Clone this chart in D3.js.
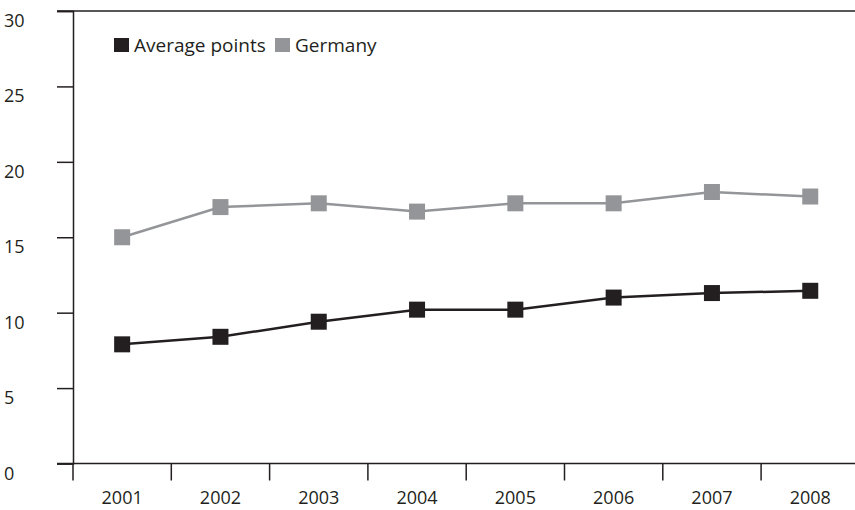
<!DOCTYPE html>
<html>
<head>
<meta charset="utf-8">
<script src="https://cdn.jsdelivr.net/npm/d3@7"></script>
<style>
  body { margin: 0; background: #fff; }
  text { font-family: "Open Sans", Lato, sans-serif; fill: #231f20; }
</style>
</head>
<body>
<script>
// chart data
var years = ["2001", "2002", "2003", "2004", "2005", "2006", "2007", "2008"];
var averagePoints = [7.9, 8.4, 9.4, 10.2, 10.2, 11.0, 11.3, 11.45];
var germany = [15.0, 17.0, 17.25, 16.7, 17.25, 17.25, 18.0, 17.7];
var yTicks = [0, 5, 10, 15, 20, 25, 30];
var seriesNames = ["Average points", "Germany"];
var seriesColors = ["#231f20", "#939598"];

drawChart();

function drawChart(){

    var width = 855,
        height = 510;

    var svg = d3.select("body")
        .append("svg")
        .attr("width", width)
        .attr("height", height);

    //scales
    var x = d3.scaleBand()
        .domain(years)
        .range([73, 73 + 8 * 98.3]);

    var y = d3.scaleLinear()
        .domain([0, 30])
        .range([463.5, 11]);

    //top border line
    svg.append("line")
        .attr("x1", 57).attr("x2", width)
        .attr("y1", y(30)).attr("y2", y(30))
        .attr("stroke", "#231f20").attr("stroke-width", 1.5);

    //y axis
    var yAxis = svg.append("g")
        .attr("transform", "translate(73,0)")
        .call(d3.axisLeft(y).tickValues(yTicks).tickSize(16).tickFormat(""));
    yAxis.select(".domain").attr("stroke", "#231f20").attr("stroke-width", 1.5);
    yAxis.selectAll(".tick line").attr("stroke", "#231f20").attr("stroke-width", 1.5);

    //y labels sit a little below their ticks
    svg.selectAll(".ylabel")
        .data(yTicks)
        .enter()
        .append("text")
        .attr("class", "ylabel")
        .attr("x", 4)
        .attr("y", function(d){ return y(d) + 16; })
        .style("font-size", "18px")
        .text(function(d){ return d; });

    //x axis line
    svg.append("line")
        .attr("x1", 57).attr("x2", width)
        .attr("y1", y(0)).attr("y2", y(0))
        .attr("stroke", "#231f20").attr("stroke-width", 1.5);

    //x ticks at band edges
    svg.selectAll(".xtick")
        .data(years)
        .enter()
        .append("line")
        .attr("class", "xtick")
        .attr("x1", function(d){ return x(d); })
        .attr("x2", function(d){ return x(d); })
        .attr("y1", y(0))
        .attr("y2", y(0) + 17)
        .attr("stroke", "#231f20").attr("stroke-width", 1.5);

    svg.selectAll(".xlabel")
        .data(years)
        .enter()
        .append("text")
        .attr("class", "xlabel")
        .attr("x", function(d){ return x(d) + x.bandwidth() / 2; })
        .attr("y", 504)
        .attr("text-anchor", "middle")
        .style("font-size", "18px")
        .text(function(d){ return d; });

    //series
    var series = [averagePoints, germany];
    var line = d3.line()
        .x(function(d, i){ return x(years[i]) + x.bandwidth() / 2; })
        .y(function(d){ return y(d); });

    series.forEach(function(values, s){
        svg.append("path")
            .datum(values)
            .attr("fill", "none")
            .attr("stroke", seriesColors[s])
            .attr("stroke-width", 2.5)
            .attr("d", line);

        svg.selectAll(".marker" + s)
            .data(values)
            .enter()
            .append("rect")
            .attr("class", "marker" + s)
            .attr("x", function(d, i){ return x(years[i]) + x.bandwidth() / 2 - 8; })
            .attr("y", function(d){ return y(d) - 8; })
            .attr("width", 16)
            .attr("height", 16)
            .attr("fill", seriesColors[s]);
    });

    //legend
    var legendX = [114, 275];
    seriesNames.forEach(function(name, s){
        svg.append("rect")
            .attr("x", legendX[s])
            .attr("y", 38)
            .attr("width", 15)
            .attr("height", 14)
            .attr("fill", seriesColors[s]);
        svg.append("text")
            .attr("x", legendX[s] + 20)
            .attr("y", 52)
            .style("font-size", "19px")
            .text(name);
    });
}
</script>
</body>
</html>
